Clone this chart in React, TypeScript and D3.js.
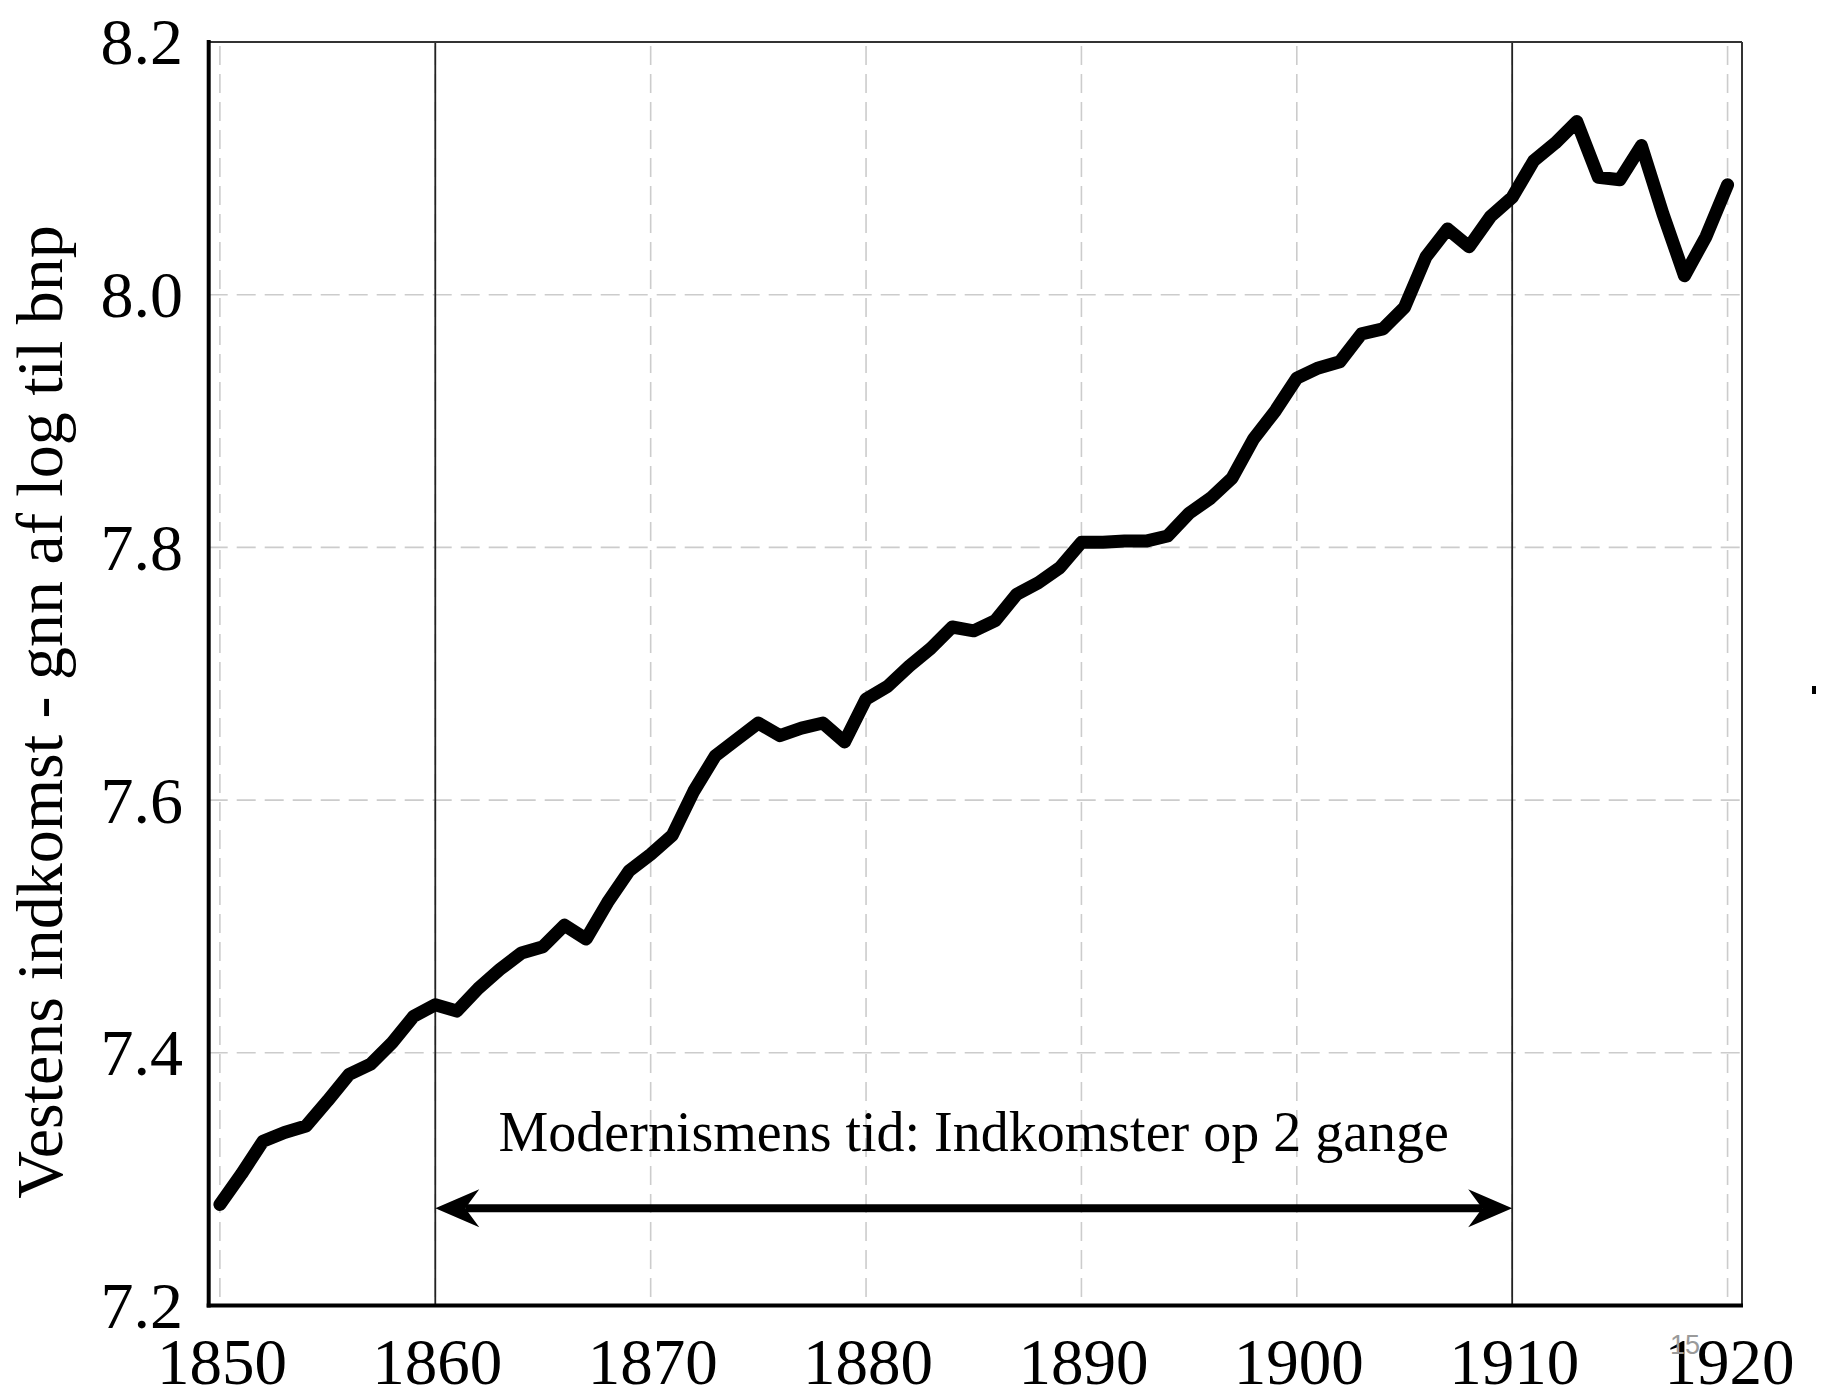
import React from "react";
import * as d3 from "d3";

const years: number[] = d3.range(1850, 1921);
const values: number[] = [
  7.280, 7.304, 7.330, 7.337, 7.342, 7.362, 7.383, 7.391, 7.408, 7.429,
  7.438, 7.433, 7.451, 7.466, 7.479, 7.484, 7.501, 7.490, 7.519, 7.544,
  7.557, 7.572, 7.607, 7.635, 7.648, 7.661, 7.651, 7.657, 7.661, 7.646,
  7.680, 7.690, 7.706, 7.720, 7.737, 7.734, 7.742, 7.763, 7.772, 7.784,
  7.804, 7.804, 7.805, 7.805, 7.809, 7.827, 7.839, 7.855, 7.886, 7.908,
  7.934, 7.942, 7.947, 7.969, 7.973, 7.990, 8.030, 8.052, 8.038, 8.062,
  8.077, 8.106, 8.120, 8.137, 8.093, 8.091, 8.118, 8.064, 8.015, 8.046,
  8.087,
];
const xTicks: number[] = [1850, 1860, 1870, 1880, 1890, 1900, 1910, 1920];
const yTicks: number[] = [7.2, 7.4, 7.6, 7.8, 8.0, 8.2];
const markerYears: number[] = [1860, 1910];
const arrowValue = 7.277;
const annotationValue = 7.322;
const annotationText = "Modernismens tid: Indkomster op 2 gange";
const yAxisTitle = "Vestens indkomst - gnn af log til bnp";
const pageNumber = "15";

const W = 1823;
const H = 1395;
const SERIF = "'Liberation Serif', 'Times New Roman', serif";

export default function App() {
  const x = d3.scaleLinear().domain([1849.48, 1920.67]).range([208.7, 1742]);
  const y = d3.scaleLinear().domain([7.2, 8.2]).range([1305.5, 42]);
  const [x0, x1] = x.range();
  const [yb, yt] = y.range();

  const line = d3
    .line<number>()
    .x((_, i) => x(years[i]))
    .y((d) => y(d));

  const ay = y(arrowValue);
  const ax0 = x(markerYears[0]);
  const ax1 = x(markerYears[1]);
  const headL = 44;
  const headW = 19;
  const notch = 30;

  return (
    <svg
      width={W}
      height={H}
      style={{ position: "absolute", left: 0, top: 0, background: "#fff" }}
      xmlns="http://www.w3.org/2000/svg"
    >
      <rect x={0} y={0} width={W} height={H} fill="#fff" />
      {/* grid */}
      <g stroke="#cccccc" strokeWidth={1.6} strokeDasharray="19,9" fill="none">
        {xTicks.map((t) => (
          <line key={"gx" + t} x1={x(t)} x2={x(t)} y1={yt + 4} y2={yb} />
        ))}
        {yTicks
          .filter((t) => t > 7.2 && t < 8.2)
          .map((t) => (
            <line key={"gy" + t} x1={x0} x2={x1} y1={y(t)} y2={y(t)} />
          ))}
      </g>
      {/* marker vertical lines */}
      {markerYears.map((yr) => (
        <line
          key={"m" + yr}
          x1={x(yr)}
          x2={x(yr)}
          y1={yt}
          y2={yb}
          stroke="#222"
          strokeWidth={1.8}
        />
      ))}
      {/* frame */}
      <line x1={x0} x2={x1} y1={yt} y2={yt} stroke="#333" strokeWidth={2} />
      <line x1={x1} x2={x1} y1={yt} y2={yb} stroke="#333" strokeWidth={2} />
      <line x1={x0} x2={x0} y1={yt - 2} y2={yb + 2} stroke="#000" strokeWidth={4} />
      <line x1={x0 - 2} x2={x1 + 1} y1={yb} y2={yb} stroke="#000" strokeWidth={4} />

      {/* data line */}
      <path
        d={line(values) || ""}
        fill="none"
        stroke="#000"
        strokeWidth={13}
        strokeLinejoin="round"
        strokeLinecap="round"
      />

      {/* arrow */}
      <line
        x1={ax0 + notch}
        x2={ax1 - notch}
        y1={ay}
        y2={ay}
        stroke="#000"
        strokeWidth={8}
      />
      <polygon
        points={`${ax0},${ay} ${ax0 + headL},${ay - headW} ${ax0 + notch},${ay} ${ax0 + headL},${ay + headW}`}
        fill="#000"
      />
      <polygon
        points={`${ax1},${ay} ${ax1 - headL},${ay - headW} ${ax1 - notch},${ay} ${ax1 - headL},${ay + headW}`}
        fill="#000"
      />
      <text
        x={(ax0 + ax1) / 2}
        y={y(annotationValue)}
        textAnchor="middle"
        fontFamily={SERIF}
        fontSize={56}
        fill="#000"
      >
        {annotationText}
      </text>

      {/* y tick labels */}
      {yTicks.map((t) => (
        <text
          key={"yl" + t}
          x={183}
          y={y(t)}
          dy="0.34em"
          textAnchor="end"
          fontFamily={SERIF}
          fontSize={66}
          fill="#000"
        >
          {t.toFixed(1)}
        </text>
      ))}
      {/* x tick labels */}
      {xTicks.map((t) => (
        <text
          key={"xl" + t}
          x={x(t) + 2}
          y={1384}
          textAnchor="middle"
          fontFamily={SERIF}
          fontSize={65}
          fill="#000"
        >
          {t}
        </text>
      ))}
      {/* y axis title */}
      <text
        transform="translate(62,712) rotate(-90)"
        textAnchor="middle"
        fontFamily={SERIF}
        fontSize={66}
        fill="#000"
      >
        {yAxisTitle}
      </text>
      {/* page number */}
      <text
        x={1670}
        y={1354}
        fontFamily="'Liberation Sans', Arial, sans-serif"
        fontSize={27}
        fill="#9a9a9a"
      >
        {pageNumber}
      </text>
      {/* stray mark */}
      <rect x={1812} y={686} width={4} height={8} fill="#000" />
    </svg>
  );
}
